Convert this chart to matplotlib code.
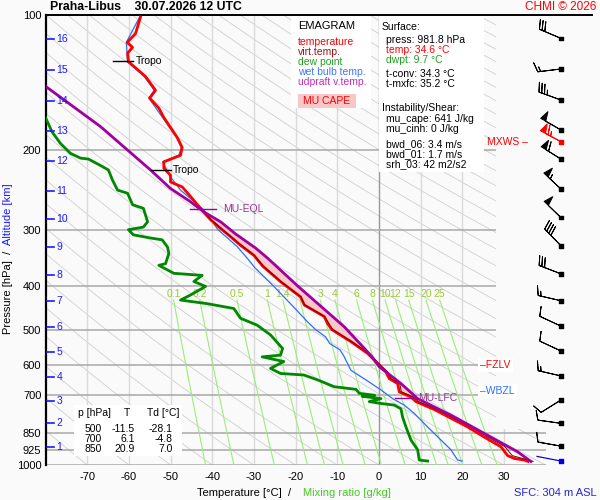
import numpy as np
import matplotlib
matplotlib.use('Agg')
import matplotlib.pyplot as plt
from matplotlib.patches import Polygon, Rectangle
from matplotlib.ticker import NullLocator, FixedLocator, FixedFormatter

plt.rcParams['font.family'] = ['Liberation Sans', 'DejaVu Sans']

# ---- sounding (pressure hPa / temperature degC) ----
temp_p = [101, 110, 115, 118, 121.5, 127, 131, 137, 147, 153, 161, 169, 180, 187, 197,
          205, 212, 219, 227, 235, 241, 253, 269, 285, 298, 311, 325, 342, 362, 392,
          423, 441, 468, 485, 500, 532, 565, 600, 621, 643, 659, 688, 706, 723, 753,
          787, 823, 867, 911, 953, 967, 975, 982]
temp_t = [-57.2, -58.4, -60.4, -59.1, -60.3, -60.1, -58.4, -56.0, -53.6, -55.0, -52.8, -51.6,
          -49.6, -48.4, -47.2, -47.6, -51.6, -51.6, -50.0, -50.0, -47.2, -45.2, -42.8, -40.4,
          -38.0, -35.6, -33.2, -30.0, -27.8, -23.5, -18.8, -17.9, -13.1, -12.3, -11.3, -6.7,
          -2.7, 0.1, 1.7, 2.5, 4.5, 4.9, 7.7, 8.9, 13.3, 17.3, 21.3, 25.3, 29.3, 30.9, 32.5,
          34.9, 35.8]

virt_p = [269, 285, 311, 342, 362, 392, 423, 441, 468, 500, 532, 565, 600, 621, 643, 659,
          688, 706, 723, 753, 787, 823, 867, 911, 953, 982]
virt_t = [-42.7, -40.3, -35.5, -29.9, -27.7, -23.4, -18.7, -17.8, -13.0, -11.1, -6.5, -2.4,
          0.4, 2.1, 2.9, 5.0, 5.4, 8.3, 9.5, 14.0, 18.0, 22.1, 26.2, 30.3, 32.0, 37.0]

dewp_p = [169, 182, 193, 203, 208, 209, 216, 221, 233, 245, 249, 264, 269, 288, 296, 300,
          308, 313, 316, 328, 339, 357, 360, 375, 379, 391, 401, 419, 430, 438, 449, 472,
          489, 514, 551, 570, 575, 589, 610, 626, 631, 647, 670, 679, 693, 700, 703, 706,
          712, 723, 730, 736, 750, 783, 823, 880, 925, 975, 980]
dewp_t = [-80.0, -78.4, -76.4, -74.0, -71.6, -69.7, -66.8, -64.9, -63.9, -62.7, -60.3, -59.1,
          -56.5, -55.5, -56.5, -60.1, -58.9, -54.8, -52.0, -50.7, -50.4, -51.2, -52.8, -49.2,
          -42.4, -44.4, -41.6, -45.2, -47.6, -41.2, -34.8, -33.2, -29.2, -26.0, -23.1, -23.6,
          -28.0, -22.8, -26.0, -23.6, -18.0, -14.7, -10.7, -5.5, -4.7, -1.0, -4.0, -2.7, 0.5,
          -2.3, 0.5, 3.7, 5.3, 5.7, 6.5, 7.7, 9.3, 9.7, 11.7]

wetb_p = [101, 115, 127, 137, 147, 153, 169, 187, 197, 205, 212, 227, 245, 271, 300, 327,
          347, 364, 401, 446, 481, 500, 519, 537, 555, 575, 616, 647, 681, 712, 736, 768,
          823, 880, 925, 975, 980]
wetb_t = [-57.4, -60.6, -60.3, -56.3, -53.9, -55.2, -51.9, -48.6, -47.4, -48.0, -51.9, -50.3,
          -47.6, -42.0, -38.6, -34.0, -31.6, -29.8, -25.2, -20.4, -17.1, -15.2, -12.8, -11.8,
          -9.3, -8.3, -6.7, -3.1, 0.5, 3.3, 6.1, 8.5, 11.7, 14.9, 17.3, 18.9, 20.0]

parc_p = [144, 177, 221, 243, 260, 274, 288, 306, 330, 347, 400, 493, 575, 605, 659, 712,
          775, 851, 935, 982]
parc_t = [-80.0, -66.8, -54.8, -50.0, -45.2, -42.0, -38.0, -34.5, -29.5, -26.7, -19.5, -8.3,
          -1.6, 0.1, 5.3, 9.3, 17.3, 25.3, 33.3, 36.5]

# wind: direction (deg), speed (kt)
wind_p = [112.7, 131.8, 154.5, 180.1, 191.2, 209, 243.6, 282, 325.8, 376, 431.5, 491.4,
          558, 634, 717, 808, 908]
wind_dir = [293, 263, 290, 300, 298, 302, 313, 314, 316, 291, 283, 295, 295, 283, 238, 278, 280]
wind_spd = [30, 15, 35, 50, 65, 60, 55, 50, 40, 30, 15, 10, 10, 15, 10, 10, 10]
mxws_p = 191.2
sfc_p, sfc_dir, sfc_spd = 980, 281, 3

# altitude markers (km -> hPa)
alt_km = list(range(1, 17))
alt_p = [912, 807, 721, 638, 561, 494, 432, 378, 328, 284, 246, 211, 181, 155, 132.5, 113]

# diagnostic levels
trop_p = [126.5, 221]
trop_t = [-58.9, -49.9]
eql_p, eql_t = 270, -39.2
lfc_p, lfc_t = 710, 8.2
fzl_p = 600
wbz_p = 685

mix_vals = [0.1, 0.2, 0.5, 1, 1.4, 2, 3, 4, 6, 8, 10, 12, 15, 20, 25]
isobars = [200, 300, 400, 500, 600, 700, 850, 925, 1000]

table_p = [500, 700, 850]
table_t = [-11.5, 6.1, 20.9]
table_td = [-28.1, -4.8, 7.0]

W, H = 600, 500
BG = '#fafafa'
RED = '#ff0000'
GREEN = '#008800'
BLUE = '#2a6fff'
PURPLE = '#a000a0'
ALT_BLUE = '#1a1aff'
MIXCOL = '#99ee77'
MIXTXT = '#99cc33'

fig = plt.figure(figsize=(W / 100, H / 100), dpi=100, facecolor=BG)
ax = fig.add_axes([45.5 / W, 1 - 465 / H, 546.5 / W, 450 / H])
ax.set_facecolor(BG)
ax.set_yscale('log')
ax.set_ylim(1000, 100)
ax.set_xlim(-80, -80 + 546.5 / 4.167)

# clip region of the diagram background
clip = Polygon([(-80, 100), (28, 100), (28, 830), (40, 830), (40, 1000), (-80, 1000)],
               closed=True, transform=ax.transData, facecolor='none', edgecolor='none')

def bg_line(x, y, **kw):
    ln, = ax.plot(x, y, **kw)
    ln.set_clip_path(clip)
    return ln

# dry adiabats
plev = np.geomspace(1000, 100, 150)
for t0 in range(-80, 330, 10):
    theta = t0 + 273.15
    bg_line(theta * (plev / 1000.0) ** 0.2857 - 273.15, plev, color='#cfcfcf', lw=0.6, zorder=1)

for t in range(-70, 40, 10):
    bg_line([t, t], [100, 1000], color='#999999' if t == 0 else '#dadada', lw=1.0, zorder=1.2)
for p in isobars:
    bg_line([-80, 40], [p, p], color='#a8a8a8', lw=1.1, zorder=1.3)

# mixing ratio lines
pm = np.geomspace(430, 1000, 30)
for w in mix_vals:
    e = w * pm / (622.0 + w)
    a = np.log(e / 6.112)
    td = 243.5 * a / (17.67 - a)
    bg_line(td, pm, color=MIXCOL, lw=0.8, zorder=1.4)
    ax.text(td[0], 417, ('%g' % w), color=MIXTXT, fontsize=7.5, ha='center', va='center', zorder=2)

# CAPE area
pp = np.geomspace(lfc_p, eql_p, 200)
tv = np.interp(np.log(pp), np.log(virt_p), virt_t)
tp = np.interp(np.log(pp), np.log(parc_p), parc_t)
ax.fill_betweenx(pp, tv, tp, where=tp > tv, color='#f8c8c8', lw=0, zorder=2)

ax.plot(wetb_t, wetb_p, color=BLUE, lw=0.9, zorder=3)
ax.plot(dewp_t, dewp_p, color=GREEN, lw=2.0, zorder=3)
ax.plot(temp_t, temp_p, color=RED, lw=2.0, zorder=4)
ax.plot(virt_t, virt_p, color='#7a0000', lw=0.7, zorder=4)
ax.plot(parc_t, parc_p, color=PURPLE, lw=2.0, zorder=4)

# diagnostic markers
for tp_, tt in zip(trop_p, trop_t):
    ax.plot([tt - 4.8, tt], [tp_, tp_], color='black', lw=1.0, zorder=5)
    ax.text(tt + 0.5, tp_, 'Tropo', fontsize=7.5, va='center', zorder=5)
ax.plot([eql_t - 6.2, eql_t], [eql_p, eql_p], color=PURPLE, lw=1.0, zorder=5)
ax.text(eql_t + 1.9, eql_p, 'MU-EQL', color='#993399', fontsize=7.5, va='center', zorder=5)
ax.plot([lfc_t - 4.3, lfc_t], [lfc_p, lfc_p], color=PURPLE, lw=1.0, zorder=5)
ax.text(lfc_t + 1.2, lfc_p, 'MU-LFC', color='#993399', fontsize=7.5, va='center', zorder=5)
ax.text(24.3, fzl_p, '\u2013FZLV', color=RED, fontsize=7.5, va='center', zorder=5,
        bbox=dict(facecolor='white', edgecolor='none', pad=1.5))
ax.text(24.3, wbz_p, '\u2013WBZL', color=BLUE, fontsize=7.5, va='center', zorder=5,
        bbox=dict(facecolor='white', edgecolor='none', pad=1.5))
ax.text(35.8, mxws_p, 'MXWS \u2013', color=RED, fontsize=7.5, ha='right', va='center', zorder=5)

# altitude scale
trans = ax.get_yaxis_transform()
for km, p in zip(alt_km, alt_p):
    ax.plot([0.003, 0.016], [p, p], color=ALT_BLUE, lw=1.2, transform=trans, zorder=5)
    ax.text(0.020, p, str(km), color=ALT_BLUE, fontsize=7.5, va='center', transform=trans, zorder=5)

# winds
wx = 43.7
rad = np.deg2rad(wind_dir)
u = -np.array(wind_spd) * np.sin(rad)
v = -np.array(wind_spd) * np.cos(rad)
cols = [RED if p == mxws_p else 'black' for p in wind_p]
ax.barbs([wx] * len(wind_p), wind_p, u, v, length=5.8, color=cols, linewidth=0.7,
         clip_on=False, zorder=6)
ax.scatter([wx] * len(wind_p), wind_p, marker='s', s=7, c=cols, zorder=7, clip_on=False)
srad = np.deg2rad(sfc_dir)
ax.quiver([wx], [sfc_p], [np.sin(srad)], [np.cos(srad)], angles='uv', pivot='tail',
          scale_units='inches', scale=4, width=0.0022, headwidth=1, headlength=0,
          headaxislength=0, color='#0000dd', zorder=6)
ax.scatter([wx], [sfc_p], marker='s', s=7, c='#0000dd', zorder=7, clip_on=False)

# axes styling
for side in ('right', 'bottom'):
    ax.spines[side].set_visible(False)
ax.spines['left'].set_linewidth(1.6)
ax.spines['top'].set_linewidth(1.4)
ax.yaxis.set_major_locator(FixedLocator([100, 200, 300, 400, 500, 600, 700, 850, 925, 1000]))
ax.yaxis.set_major_formatter(FixedFormatter(['100', '200', '300', '400', '500', '600', '700',
                                             '850', '925', '1000']))
ax.yaxis.set_minor_locator(NullLocator())
ax.set_xticks(list(range(-70, 40, 10)))
ax.set_xticklabels([str(t) for t in range(-70, 40, 10)])
ax.tick_params(axis='both', length=0, labelsize=8)
ax.tick_params(axis='y', pad=3)
ax.tick_params(axis='x', pad=5)


def ftext(x, y, s, **kw):
    kw.setdefault('va', 'center')
    kw.setdefault('fontsize', 7.5)
    fig.text(x / W, 1 - y / H, s, **kw)


def fbox(x0, y0, x1, y1, color='white'):
    fig.add_artist(Rectangle((x0 / W, 1 - y1 / H), (x1 - x0) / W, (y1 - y0) / H,
                             transform=fig.transFigure, facecolor=color, edgecolor='none',
                             zorder=1))


# boxes
fbox(291, 16, 371, 108)
fbox(379, 16, 484, 172)
fbox(74, 405, 182, 456)
fbox(298, 94, 356, 108, color='#f8c8c8')

ftext(50, 7, 'Praha-Libus    30.07.2026 12 UTC', fontsize=8.8, fontweight='bold')
ftext(596, 7, 'CHMI \u00a9 2026', color=RED, fontsize=8.5, ha='right')

ftext(298, 26, 'EMAGRAM', fontsize=8)
ftext(298, 42, 'temperature', color=RED)
ftext(298, 52, 'virt.temp.', color='#a01010')
ftext(298, 62, 'dew point', color='#22a022')
ftext(298, 72, 'wet bulb temp.', color='#3a7aff')
ftext(298, 82, 'udpraft v.temp.', color='#c030c0')
ftext(303, 101, 'MU CAPE', color=RED)

ftext(382, 27, 'Surface:')
ftext(386, 40, 'press: 981.8 hPa')
ftext(386, 50, 'temp: 34.6 \u00b0C', color=RED)
ftext(386, 60, 'dwpt: 9.7 \u00b0C', color='#22a022')
ftext(386, 74, 't-conv: 34.3 \u00b0C')
ftext(386, 84, 't-mxfc: 35.2 \u00b0C')
ftext(382, 108, 'Instability/Shear:')
ftext(386, 119, 'mu_cape: 641 J/kg')
ftext(386, 129, 'mu_cinh: 0 J/kg')
ftext(386, 144, 'bwd_06: 3.4 m/s')
ftext(386, 154, 'bwd_01: 1.7 m/s')
ftext(386, 164, 'srh_03: 42 m2/s2')

ftext(78, 413.5, 'p [hPa]')
ftext(127, 413.5, 'T', ha='center')
ftext(147, 413.5, 'Td [\u00b0C]')
for i, (p, t, td) in enumerate(zip(table_p, table_t, table_td)):
    y = 428.5 + i * 10.3
    ftext(102, y, str(p), ha='right')
    ftext(135, y, '%.1f' % t, ha='right')
    ftext(173, y, '%.1f' % td, ha='right')

ftext(197, 493, 'Temperature [\u00b0C]  /', fontsize=8)
ftext(303, 493, 'Mixing ratio [g/kg]', fontsize=8, color='#44cc22')
ftext(597, 493, 'SFC: 304 m ASL', fontsize=8, color='#2222dd', ha='right')
ftext(8, 334, 'Pressure [hPa]  /', fontsize=8, rotation=90, ha='center', va='bottom')
ftext(8, 183, 'Altitude [km]', fontsize=8, rotation=90, ha='center', va='top', color=ALT_BLUE)

fig.savefig('out.png', dpi=100, facecolor=BG)
